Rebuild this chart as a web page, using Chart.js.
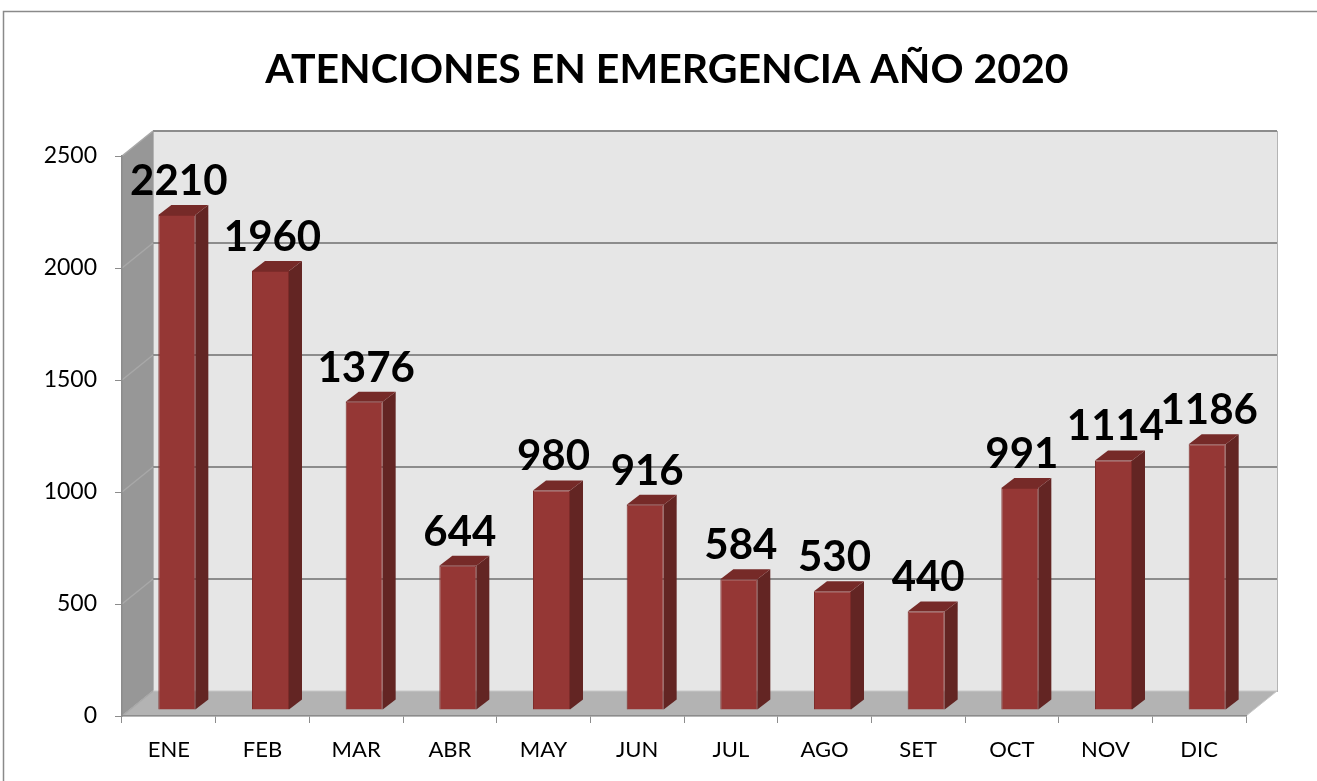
<!DOCTYPE html>
<html>
<head>
<meta charset="utf-8">
<script src="https://cdn.jsdelivr.net/npm/chart.js@4"></script>
<style>
  html, body { margin: 0; padding: 0; background: #fff; }
  #wrap { width: 1317px; height: 781px; position: relative; }
</style>
</head>
<body>
<div id="wrap"><canvas id="emergChart" width="1317" height="781"></canvas></div>
<script>
const months = ["ENE", "FEB", "MAR", "ABR", "MAY", "JUN", "JUL", "AGO", "SET", "OCT", "NOV", "DIC"];
const attentions = [2210, 1960, 1376, 644, 980, 916, 584, 530, 440, 991, 1114, 1186];
const yTicks = [0, 500, 1000, 1500, 2000, 2500];
const chartTitle = "ATENCIONES EN EMERGENCIA AÑO 2020";

// depth of the 3d box and of the bars
const DX = 31, DY = 25;
const BAR_OFF_X = 8, BAR_OFF_Y = 6;
const BAR_DX = 13, BAR_DY = 10;

const walls3d = {
  id: "walls3d",
  beforeDraw(chart) {
    const { ctx, chartArea: a, scales } = chart;
    ctx.save();
    ctx.fillStyle = "#fff";
    ctx.fillRect(0, 0, chart.width, chart.height);
    // outer frame
    ctx.strokeStyle = "#8a8a8a";
    ctx.lineWidth = 1.5;
    ctx.strokeRect(3.5, 11.5, 1400, 900);

    // title
    ctx.fillStyle = "#000";
    ctx.font = "bold 41px Lato";
    ctx.textAlign = "center";
    ctx.textBaseline = "alphabetic";
    ctx.fillText(chartTitle, 667, 83);

    // back wall
    ctx.fillStyle = "#e6e6e6";
    ctx.fillRect(a.left + DX, a.top - DY, a.right - a.left, a.bottom - a.top);
    ctx.strokeStyle = "#b4b4b4";
    ctx.lineWidth = 1;
    ctx.strokeRect(a.left + DX + 0.5, a.top - DY + 0.5, a.right - a.left, a.bottom - a.top);

    // side wall
    ctx.fillStyle = "#979797";
    ctx.beginPath();
    ctx.moveTo(a.left, a.top);
    ctx.lineTo(a.left + DX, a.top - DY);
    ctx.lineTo(a.left + DX, a.bottom - DY);
    ctx.lineTo(a.left, a.bottom);
    ctx.closePath();
    ctx.fill();

    // floor
    ctx.fillStyle = "#b3b3b3";
    ctx.beginPath();
    ctx.moveTo(a.left, a.bottom);
    ctx.lineTo(a.left + DX, a.bottom - DY);
    ctx.lineTo(a.right + DX, a.bottom - DY);
    ctx.lineTo(a.right, a.bottom);
    ctx.closePath();
    ctx.fill();
    ctx.strokeStyle = "#c8c8c8";
    ctx.stroke();

    // gridlines on back + side wall
    yTicks.forEach((v) => {
      const y = scales.y.getPixelForValue(v);
      if (v > 0) {
        ctx.strokeStyle = "#8c8c8c";
        ctx.lineWidth = 2;
        ctx.beginPath();
        ctx.moveTo(a.left + DX, y - DY);
        ctx.lineTo(a.right + DX, y - DY);
        ctx.stroke();
      }
      ctx.strokeStyle = "#a8a8a8";
      ctx.lineWidth = 1.5;
      ctx.beginPath();
      ctx.moveTo(a.left, y);
      ctx.lineTo(a.left + DX, y - DY);
      ctx.stroke();
    });
    ctx.restore();
  },
  beforeDatasetsDraw(chart) {
    chart.ctx.save();
    chart.ctx.translate(BAR_OFF_X, -BAR_OFF_Y);
  },
  afterDatasetsDraw(chart) {
    const { ctx } = chart;
    ctx.restore();
    const meta = chart.getDatasetMeta(0);
    ctx.save();
    meta.data.forEach((bar, i) => {
      const half = bar.width / 2;
      const l = bar.x - half + BAR_OFF_X;
      const r = bar.x + half + BAR_OFF_X;
      const t = bar.y - BAR_OFF_Y;
      const b = bar.base - BAR_OFF_Y;
      // side face
      ctx.fillStyle = "#632523";
      ctx.beginPath();
      ctx.moveTo(r, t);
      ctx.lineTo(r + BAR_DX, t - BAR_DY);
      ctx.lineTo(r + BAR_DX, b - BAR_DY);
      ctx.lineTo(r, b);
      ctx.closePath();
      ctx.fill();
      // top face
      ctx.fillStyle = "#762a28";
      ctx.beginPath();
      ctx.moveTo(l, t);
      ctx.lineTo(l + BAR_DX, t - BAR_DY);
      ctx.lineTo(r + BAR_DX, t - BAR_DY);
      ctx.lineTo(r, t);
      ctx.closePath();
      ctx.fill();
      // value label
      ctx.fillStyle = "#000";
      ctx.font = "bold 42px Lato";
      ctx.textAlign = "center";
      ctx.textBaseline = "alphabetic";
      ctx.fillText(String(attentions[i]), bar.x + BAR_OFF_X + 2, t - BAR_DY - 10);
    });
    ctx.restore();
  },
};

new Chart(document.getElementById("emergChart"), {
  type: "bar",
  data: {
    labels: months,
    datasets: [
      {
        label: "Atenciones",
        data: attentions,
        backgroundColor: "#953735",
        borderColor: "#7e2c2a",
        borderWidth: 1,
        barPercentage: 0.395,
        categoryPercentage: 1,
      },
    ],
  },
  options: {
    responsive: false,
    animation: false,
    layout: { padding: { left: 0, right: 71, top: 156, bottom: 0 } },
    plugins: {
      legend: { display: false },
      tooltip: { enabled: false },
      title: { display: false },
    },
    scales: {
      x: {
        grid: { drawOnChartArea: false, drawTicks: true, tickLength: 7, color: "#8c8c8c", offset: true },
        border: { display: true, color: "#8c8c8c", width: 1.5 },
        ticks: { color: "#000", padding: 14, font: { family: "Lato", size: 22 } },
        afterFit(scale) { scale.height = 65; },
      },
      y: {
        min: 0,
        max: 2500,
        grid: { drawOnChartArea: false, drawTicks: true, tickLength: 7, color: "#8c8c8c" },
        border: { display: true, color: "#8c8c8c", width: 1.5 },
        ticks: {
          stepSize: 500,
          color: "#000",
          padding: 18,
          font: { family: "Lato", size: 23 },
          callback: (value) => String(value),
        },
        afterFit(scale) { scale.width = 122; },
      },
    },
  },
  plugins: [walls3d],
});
</script>
</body>
</html>
